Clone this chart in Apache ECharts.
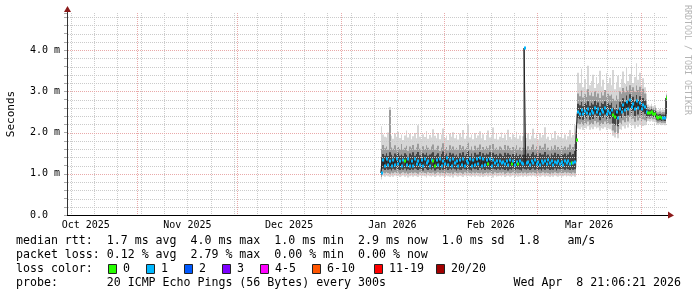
<!DOCTYPE html>
<html><head><meta charset="utf-8">
<script src="https://cdn.jsdelivr.net/npm/echarts@6/dist/echarts.min.js"></script>
<style>html,body{margin:0;padding:0;background:#fff}#c{width:697px;height:297px}</style>
</head><body><div id="c"></div>
<script>
// ---- time frame (local time of the graph, handled as UTC) ----
const axisStart = Date.UTC(2025, 9, 10, 21, 6, 21);
const axisEnd   = Date.UTC(2026, 3, 8, 21, 6, 21);
const firstSample = Date.UTC(2026, 0, 13, 0, 0, 0);
const stepHours = 12;

const monthLabels = ['Oct 2025', 'Nov 2025', 'Dec 2025', 'Jan 2026', 'Feb 2026', 'Mar 2026'];
const yTickLabels = ['0.0', '1.0 m', '2.0 m', '3.0 m', '4.0 m'];
const yMax = 4.9; // ms

// ---- median RTT per step (ms) ----
const median = [
 1.02,1.33,1.20,1.35,1.22,1.30,1.18,1.34,1.21,1.36,
 1.24,1.31,1.19,1.33,1.31,1.22,1.35,1.20,1.32,1.18,
 1.36,1.23,1.30,1.21,1.34,1.19,1.37,1.25,1.31,1.20,
 1.33,1.31,1.19,1.34,1.22,1.36,1.20,1.32,1.24,1.38,
 1.21,1.33,1.19,1.35,1.26,1.30,1.18,1.34,1.22,1.37,
 1.20,1.31,1.25,1.36,1.19,1.33,1.21,1.35,1.23,1.38,
 1.18,1.37,1.22,1.34,1.23,1.36,1.20,1.33,1.25,1.30,
 1.22,1.32,1.27,1.29,1.24,1.31,1.21,1.33,1.24,1.30,
 1.22,1.29,1.23,1.31,1.26,1.24,4.05,1.25,1.28,1.22,
 1.30,1.25,1.33,1.24,1.29,1.21,1.32,1.26,1.30,1.23,
 1.33,1.27,1.31,1.22,1.29,1.25,1.32,1.24,1.28,1.21,
 1.30,1.26,1.31,1.24,1.27,1.25,1.28,1.82,2.50,2.46,
 2.55,2.44,2.52,2.48,2.58,2.45,2.53,2.47,2.60,2.49,
 2.56,2.44,2.54,2.50,2.59,2.46,2.52,2.48,2.55,2.42,
 2.38,2.51,2.35,2.58,2.49,2.66,2.55,2.74,2.58,2.78,
 2.62,2.70,2.56,2.76,2.60,2.72,2.57,2.68,2.62,2.50,
 2.48,2.47,2.49,2.46,2.45,2.38,2.36,2.37,2.35,2.36,
 2.35,2.84
];

// ---- lost pings per step (0..20) ----
const loss = [
 1,1,1,1,1,1,1,1,1,1, 1,1,1,1,0,1,1,1,1,1, 1,1,1,1,1,1,1,1,1,1,
 1,0,0,1,1,1,1,1,1,1, 1,1,1,1,1,1,1,1,1,1, 1,1,1,1,1,1,1,1,1,1,
 1,1,1,1,0,1,1,1,1,1, 1,1,1,1,1,1,1,1,0,1, 1,1,0,1,1,1,1,1,1,1,
 1,1,1,1,1,1,1,1,1,1, 1,1,1,1,1,1,1,1,1,1, 1,1,1,1,0,1,1,0,1,1,
 1,1,1,1,1,1,1,1,1,1, 1,1,1,1,1,1,1,1,1,0, 0,1,1,1,1,1,1,1,1,1,
 1,1,1,1,1,1,1,1,1,1, 0,0,0,0,0,0,0,0,0,1, 1,0
];

// ---- smoke: spread of the 20 pings per step (ms) ----
const smokeMin = [
 0.86,0.95,0.93,0.96,0.94,0.92,0.95,0.93,0.96,0.94,
 0.95,0.92,0.94,0.96,0.93,0.95,0.91,0.94,0.96,0.93,
 0.95,0.94,0.92,0.96,0.93,0.95,0.94,0.91,0.96,0.94,
 0.93,0.95,0.92,0.94,0.96,0.93,0.95,0.94,0.92,0.96,
 0.94,0.93,0.95,0.91,0.96,0.94,0.93,0.95,0.94,0.92,
 0.96,0.93,0.95,0.94,0.92,0.95,0.93,0.96,0.94,0.93,
 0.95,0.92,0.94,0.96,0.93,0.95,0.94,0.91,0.96,0.93,
 0.94,0.95,0.93,0.96,0.92,0.94,0.95,0.93,0.94,0.96,
 0.92,0.95,0.93,0.94,0.96,0.93,0.95,0.92,0.94,0.95,
 0.93,0.96,0.94,0.92,0.95,0.93,0.94,0.96,0.93,0.95,
 0.94,0.92,0.95,0.93,0.96,0.94,0.93,0.95,0.92,0.94,
 0.96,0.93,0.95,0.94,0.92,0.95,0.93,1.15,2.10,2.08,
 2.13,2.06,2.11,2.09,2.15,2.07,2.12,2.08,2.14,2.10,
 2.12,2.05,2.11,2.09,2.13,2.06,2.10,2.08,2.05,1.92,
 1.88,2.02,1.86,2.08,2.06,2.15,2.10,2.20,2.12,2.22,
 2.15,2.18,2.10,2.21,2.14,2.19,2.11,2.16,2.18,2.20,
 2.28,2.27,2.29,2.26,2.25,2.21,2.19,2.20,2.18,2.19,
 2.18,2.33
];
const smokeP10 = [
 0.92,1.03,1.01,1.04,1.02,1.00,1.03,1.01,1.04,1.02,
 1.03,1.00,1.02,1.04,1.01,1.03,1.00,1.02,1.04,1.01,
 1.03,1.02,1.00,1.04,1.01,1.03,1.02,1.00,1.04,1.02,
 1.01,1.03,1.00,1.02,1.04,1.01,1.03,1.02,1.00,1.04,
 1.02,1.01,1.03,1.00,1.04,1.02,1.01,1.03,1.02,1.00,
 1.04,1.01,1.03,1.02,1.00,1.03,1.01,1.04,1.02,1.01,
 1.03,1.00,1.02,1.04,1.01,1.03,1.02,1.00,1.04,1.01,
 1.02,1.03,1.01,1.04,1.00,1.02,1.03,1.01,1.02,1.04,
 1.00,1.03,1.01,1.02,1.04,1.01,1.03,1.00,1.02,1.03,
 1.01,1.04,1.02,1.00,1.03,1.01,1.02,1.04,1.01,1.03,
 1.02,1.00,1.03,1.01,1.04,1.02,1.01,1.03,1.00,1.02,
 1.04,1.01,1.03,1.02,1.00,1.03,1.01,1.30,2.22,2.20,
 2.25,2.18,2.23,2.21,2.27,2.19,2.24,2.20,2.28,2.22,
 2.25,2.17,2.24,2.21,2.27,2.19,2.23,2.20,2.22,2.05,
 2.00,2.18,1.98,2.24,2.20,2.30,2.25,2.35,2.27,2.38,
 2.30,2.34,2.26,2.37,2.29,2.35,2.27,2.32,2.30,2.26,
 2.34,2.33,2.35,2.32,2.31,2.26,2.24,2.25,2.23,2.24,
 2.23,2.38
];
const smokeP25 = [
 0.98,1.12,1.09,1.13,1.10,1.11,1.08,1.12,1.10,1.14,
 1.11,1.09,1.12,1.10,1.13,1.08,1.11,1.09,1.12,1.10,
 1.13,1.11,1.09,1.12,1.10,1.08,1.14,1.11,1.09,1.12,
 1.10,1.13,1.08,1.11,1.12,1.09,1.13,1.10,1.11,1.14,
 1.09,1.12,1.10,1.13,1.11,1.08,1.12,1.10,1.09,1.13,
 1.11,1.09,1.12,1.10,1.08,1.13,1.11,1.12,1.09,1.14,
 1.10,1.12,1.09,1.13,1.11,1.10,1.08,1.12,1.11,1.09,
 1.12,1.10,1.13,1.11,1.09,1.12,1.08,1.11,1.10,1.13,
 1.09,1.12,1.11,1.10,1.08,1.13,1.11,1.10,1.12,1.09,
 1.11,1.13,1.10,1.12,1.09,1.11,1.08,1.12,1.10,1.13,
 1.12,1.09,1.11,1.10,1.13,1.08,1.12,1.11,1.09,1.12,
 1.10,1.13,1.11,1.09,1.12,1.10,1.11,1.55,2.36,2.32,
 2.40,2.31,2.37,2.34,2.42,2.31,2.38,2.33,2.44,2.35,
 2.40,2.30,2.39,2.36,2.43,2.32,2.37,2.34,2.38,2.22,
 2.18,2.33,2.15,2.40,2.35,2.48,2.40,2.55,2.42,2.58,
 2.46,2.53,2.40,2.57,2.44,2.54,2.41,2.50,2.45,2.36,
 2.40,2.39,2.41,2.38,2.37,2.31,2.29,2.30,2.28,2.29,
 2.28,2.45
];
const smokeP75 = [
 1.40,1.48,1.44,1.50,1.43,1.52,1.46,1.42,1.49,1.45,
 1.51,1.44,1.47,1.43,1.50,1.46,1.41,1.49,1.45,1.52,
 1.44,1.48,1.53,1.45,1.42,1.50,1.46,1.51,1.44,1.47,
 1.49,1.52,1.43,1.46,1.50,1.42,1.48,1.54,1.45,1.49,
 1.43,1.51,1.46,1.49,1.44,1.47,1.42,1.50,1.45,1.52,
 1.44,1.48,1.55,1.43,1.49,1.42,1.51,1.46,1.47,1.53,
 1.43,1.50,1.45,1.49,1.47,1.52,1.42,1.51,1.46,1.48,
 1.44,1.49,1.47,1.43,1.51,1.45,1.50,1.46,1.42,1.48,
 1.45,1.50,1.43,1.47,1.41,1.46,1.47,1.44,1.49,1.43,
 1.48,1.52,1.45,1.49,1.43,1.50,1.46,1.47,1.53,1.44,
 1.47,1.42,1.49,1.45,1.51,1.43,1.48,1.44,1.50,1.46,
 1.49,1.43,1.47,1.52,1.45,1.48,1.55,2.05,2.70,2.66,
 2.74,2.64,2.71,2.67,2.76,2.65,2.72,2.68,2.77,2.67,
 2.73,2.63,2.72,2.69,2.76,2.65,2.71,2.67,2.72,2.60,
 2.56,2.68,2.55,2.75,2.69,2.83,2.74,2.90,2.77,2.93,
 2.80,2.87,2.74,2.91,2.78,2.88,2.75,2.84,2.78,2.66,
 2.56,2.55,2.57,2.54,2.53,2.46,2.44,2.45,2.43,2.44,
 2.43,2.87
];
const smokeP90 = [
 1.60,1.70,1.62,1.66,1.58,2.55,1.64,1.61,1.69,1.57,
 1.65,1.60,1.72,1.59,1.63,1.68,1.56,1.66,1.62,1.70,
 1.58,1.64,1.73,1.61,1.57,1.67,1.60,1.69,1.63,1.59,
 1.66,1.71,1.58,1.62,1.68,1.56,1.64,1.74,1.60,1.65,
 1.57,1.69,1.61,1.66,1.59,1.63,1.58,1.70,1.62,1.67,
 1.60,1.64,1.75,1.59,1.66,1.57,1.68,1.61,1.63,1.71,
 1.58,1.65,1.60,1.67,1.62,1.69,1.57,1.72,1.61,1.64,
 1.59,1.66,1.63,1.58,1.70,1.60,1.68,1.62,1.57,1.65,
 1.61,1.69,1.58,1.64,1.56,1.63,1.62,1.60,1.67,1.59,
 1.65,1.71,1.60,1.66,1.58,1.68,1.62,1.64,1.73,1.59,
 1.63,1.57,1.67,1.61,1.69,1.58,1.65,1.60,1.70,1.62,
 1.66,1.59,1.64,1.71,1.60,1.65,1.72,2.25,2.95,2.88,
 3.02,2.85,2.93,2.86,3.05,2.90,2.97,2.88,3.00,2.87,
 2.95,2.84,2.98,2.90,3.03,2.86,2.94,2.89,2.92,2.82,
 2.78,2.90,2.80,3.00,2.94,3.08,2.98,3.12,3.02,3.15,
 3.05,3.10,2.99,3.14,3.03,3.11,2.98,3.06,2.95,2.80,
 2.62,2.60,2.63,2.59,2.60,2.52,2.49,2.51,2.48,2.50,
 2.49,2.91
];
const smokeMax = [
 2.15,1.95,1.90,1.88,2.00,2.62,1.92,1.85,1.98,1.90,
 2.02,1.87,1.95,1.82,1.93,2.05,1.88,1.97,1.84,1.91,
 1.99,1.86,2.18,1.90,1.83,1.96,1.89,2.04,1.85,1.94,
 1.88,2.08,1.92,1.86,1.99,1.84,1.95,2.10,1.87,1.93,
 1.82,1.97,1.90,2.01,1.86,1.94,1.83,1.98,1.89,2.06,
 1.85,1.92,2.20,1.88,1.95,1.84,1.99,1.87,1.93,2.03,
 1.86,1.96,1.82,1.94,2.05,1.88,1.91,2.12,1.85,1.97,
 1.83,1.90,2.00,1.87,1.95,1.82,2.07,1.89,1.84,1.96,
 1.88,2.02,1.85,1.93,1.80,1.91,1.95,1.87,1.98,1.84,
 1.92,2.09,1.86,1.95,1.83,1.99,1.88,1.94,2.13,1.85,
 1.90,1.82,1.97,1.87,2.04,1.84,1.93,1.89,1.99,1.86,
 1.95,1.83,1.91,2.06,1.88,1.94,2.18,2.45,3.45,3.20,
 3.55,3.10,3.30,3.05,3.62,3.15,3.25,3.40,3.08,3.35,
 3.18,3.50,3.12,3.28,3.02,3.44,3.20,3.33,3.15,3.52,
 3.05,3.22,3.38,3.10,3.30,3.48,3.18,3.58,3.25,3.42,
 3.60,3.20,3.35,3.68,3.28,3.45,3.15,3.32,3.10,2.95,
 2.68,2.65,2.70,2.64,2.66,2.58,2.55,2.57,2.54,2.56,
 2.55,2.95
];

const lossColors = [
 {label:'0', color:'#26ff00', upTo:0}, {label:'1', color:'#00b8ff', upTo:1},
 {label:'2', color:'#0059ff', upTo:2}, {label:'3', color:'#7e00ff', upTo:3},
 {label:'4-5', color:'#ff00ff', upTo:5}, {label:'6-10', color:'#ff5500', upTo:10},
 {label:'11-19', color:'#ff0000', upTo:19}, {label:'20/20', color:'#a10000', upTo:20}
];

// ---------------- build ----------------
const STEP = stepHours * 3600 * 1000;
const DAY = 86400000;
const FONT = '"DejaVu Sans Mono", "Liberation Mono", monospace';
function lossColor(n){ for (const c of lossColors) if (n <= c.upTo) return c.color; return '#a10000'; }

const times = median.map((_, i) => firstSample + i * STEP);
const smokeData = times.map((t, i) => [t, smokeMin[i], smokeP10[i], smokeP25[i], smokeP75[i], smokeP90[i], smokeMax[i]]);
const medData = times.map((t, i) => [t, median[i], loss[i]]);

// month label anchors: middle of each month
const monIdx = {Jan:0,Feb:1,Mar:2,Apr:3,May:4,Jun:5,Jul:6,Aug:7,Sep:8,Oct:9,Nov:10,Dec:11};
const labelValues = monthLabels.map(l => {
  const [m, y] = l.split(' '); const a = Date.UTC(+y, monIdx[m], 1), b = Date.UTC(+y, monIdx[m] + 1, 1);
  return a + (b - a) / 2;
});
// grid positions (calendar based)
const monthStarts = [];
for (let y = 2025, m = 9; ; ) { const t = Date.UTC(y, m, 1); if (t > axisEnd) break; if (t > axisStart) monthStarts.push(t); m++; if (m > 11) { m = 0; y++; } }
const sundays = [];
for (let t = Date.UTC(2025, 9, 12); t < axisEnd; t += 7 * DAY) if (monthStarts.indexOf(t) < 0) sundays.push(t);
const hMinor = [], hMajor = [];
for (let k = 1; k * 0.2 < yMax; k++) { if (k % 5 === 0) hMajor.push(k / 5); else hMinor.push(+(k * 0.2).toFixed(1)); }

const gridColor = '#cbcbcb', mgridColor = '#e9a9a9';
// dotted line drawn as a row of 1px dots (crisp, like rrdtool's 1-on/1-off grid)
function dots(x1, y1, x2, y2, color) {
  const pts = [];
  if (x1 === x2) { for (let y = Math.min(y1, y2); y <= Math.max(y1, y2); y += 2) pts.push({type: 'rect', shape: {x: x1, y: y, width: 1, height: 1}, style: {fill: color}}); }
  else { for (let x = Math.min(x1, x2); x <= Math.max(x1, x2); x += 2) pts.push({type: 'rect', shape: {x: x, y: y1, width: 1, height: 1}, style: {fill: color}}); }
  return {type: 'group', children: pts};
}
function vLineSeries(list, color) {
  return {
    type: 'custom', z: 3, silent: true, clip: true, encode: {x: 0, y: 1},
    data: list.map(t => [t, 0]),
    renderItem: (params, api) => {
      const t = api.value(0);
      const p0 = api.coord([t, 0]), p1 = api.coord([t, yMax]);
      return dots(Math.round(p0[0]), Math.round(p0[1]) - 1, Math.round(p0[0]), Math.round(p1[1]), color);
    }
  };
}
function hLineSeries(list, color) {
  return {
    type: 'custom', z: 3, silent: true, clip: true, encode: {x: 0, y: 1},
    data: list.map(v => [axisStart, v]),
    renderItem: (params, api) => {
      const v = api.value(1);
      const p0 = api.coord([axisStart, v]), p1 = api.coord([axisEnd, v]);
      return dots(Math.round(p0[0]) + 1, Math.round(p0[1]), Math.round(p1[0]), Math.round(p0[1]), color);
    }
  };
}

const chart = echarts.init(document.getElementById('c'), null, {renderer: 'canvas'});

chart.setOption({
  animation: false,
  backgroundColor: '#fff',
  grid: {left: 67, right: 30, top: 13, bottom: 82, containLabel: false, outerBoundsMode: 'none'},
  xAxis: {
    type: 'value', min: axisStart, max: axisEnd, z: 6,
    axisLine: {show: true, onZero: false, lineStyle: {color: '#000', width: 1}},
    axisTick: {show: false},
    splitLine: {show: false},
    axisLabel: {
      customValues: labelValues, margin: 5, color: '#000', fontFamily: FONT, fontSize: 10,
      formatter: v => { const k = labelValues.findIndex(x => Math.abs(x - v) < 1000); return k >= 0 ? monthLabels[k] : ''; }
    }
  },
  yAxis: {
    type: 'value', min: 0, max: yMax, interval: 0.2, z: 6,
    name: 'Seconds', nameLocation: 'middle', nameRotate: 90, nameGap: 50,
    nameTextStyle: {fontFamily: FONT, fontSize: 11, color: '#000'},
    axisLine: {show: true, onZero: false, lineStyle: {color: '#333', width: 1}},
    axisTick: {show: true, length: 3, lineStyle: {color: '#aaa'}},
    splitLine: {show: false},
    axisLabel: {
      align: 'left', margin: 37, color: '#000', fontFamily: FONT, fontSize: 10,
      formatter: v => { const r = Math.round(v); return (Math.abs(v - r) < 1e-6 && r < yTickLabels.length) ? yTickLabels[r] : ''; }
    }
  },
  series: [
    { // smoke
      type: 'custom', z: 2, silent: true, clip: true,
      encode: {x: 0, y: [1, 6]},
      data: smokeData,
      renderItem: (params, api) => {
        const t = api.value(0);
        const xa = Math.round(api.coord([t, 0])[0]), xb = Math.round(api.coord([t + STEP, 0])[0]);
        const band = (lo, hi, fill) => {
          const y1 = api.coord([t, api.value(lo)])[1], y2 = api.coord([t, api.value(hi)])[1];
          return {type: 'rect', shape: {x: xa, y: Math.min(y1, y2), width: Math.max(1, xb - xa), height: Math.abs(y1 - y2)}, style: {fill: fill}};
        };
        return {type: 'group', children: [band(1, 6, '#d6d6d6'), band(2, 5, '#9c9c9c'), band(3, 4, '#444444')]};
      }
    },
    vLineSeries(sundays, gridColor),
    hLineSeries(hMinor, gridColor),
    vLineSeries(monthStarts, mgridColor),
    hLineSeries(hMajor, mgridColor),
    { // median line
      type: 'line', z: 4, step: 'end', symbol: 'none', silent: true,
      data: medData.map(d => [d[0], d[1]]),
      lineStyle: {color: '#202020', width: 1}
    },
    { // loss coloured median marks
      type: 'custom', z: 5, silent: true, clip: true,
      encode: {x: 0, y: 1},
      data: medData,
      renderItem: (params, api) => {
        const t = api.value(0);
        const p = api.coord([t, api.value(1)]);
        const xa = Math.round(p[0]), xb = Math.round(api.coord([t + STEP, 0])[0]);
        return {type: 'rect', shape: {x: xa, y: Math.round(p[1]) - 1.5, width: Math.max(2, xb - xa), height: 3},
          style: {fill: lossColor(api.value(2))}};
      }
    }
  ]
});

// ---- decorations: arrows, legend, credits ----
const pEnd = chart.convertToPixel({gridIndex: 0}, [axisEnd, 0]);
const pTop = chart.convertToPixel({gridIndex: 0}, [axisStart, yMax]);
const g = [];
g.push({type: 'line', shape: {x1: pEnd[0], y1: Math.round(pEnd[1]) + 0.5, x2: pEnd[0] + 3, y2: Math.round(pEnd[1]) + 0.5}, style: {stroke: '#000'}});
g.push({type: 'polygon', shape: {points: [[pEnd[0] + 1, pEnd[1] - 3.5], [pEnd[0] + 7, pEnd[1] + 0.5], [pEnd[0] + 1, pEnd[1] + 3.5]]}, style: {fill: '#8b1a1a'}});
g.push({type: 'line', shape: {x1: Math.round(pTop[0]) + 0.5, y1: pTop[1], x2: Math.round(pTop[0]) + 0.5, y2: pTop[1] - 2}, style: {stroke: '#333'}});
g.push({type: 'polygon', shape: {points: [[pTop[0] - 3, pTop[1] - 1], [pTop[0] + 0.5, pTop[1] - 7], [pTop[0] + 4, pTop[1] - 1]]}, style: {fill: '#8b1a1a'}});

const txt = (x, y, s, extra) => Object.assign({type: 'text', x: x, y: y, style: Object.assign({text: s, fill: '#000', font: '11.6px ' + FONT, textVerticalAlign: 'middle'}, extra || {})});
g.push(txt(16, 241, 'median rtt:  1.7 ms avg  4.0 ms max  1.0 ms min  2.9 ms now  1.0 ms sd  1.8    am/s'));
g.push(txt(16, 255, 'packet loss: 0.12 % avg  2.79 % max  0.00 % min  0.00 % now'));
g.push(txt(16, 269, 'loss color:'));
const boxX = [108, 146, 184, 222, 260, 312, 374, 436];
lossColors.forEach((c, k) => {
  g.push({type: 'rect', shape: {x: boxX[k] + 0.5, y: 264.5, width: 8, height: 9}, style: {fill: c.color, stroke: '#222', lineWidth: 1}});
  g.push(txt(boxX[k] + 15, 269, c.label));
});
g.push(txt(16, 283, 'probe:       20 ICMP Echo Pings (56 Bytes) every 300s'));
g.push(txt(681, 283, 'Wed Apr  8 21:06:21 2026', {textAlign: 'right'}));
g.push({type: 'text', x: 687, y: 5, rotation: -Math.PI / 2,
  style: {text: 'RRDTOOL / TOBI OETIKER', fill: '#b4b4b4', font: '8.3px ' + FONT, textAlign: 'left', textVerticalAlign: 'middle'}});
chart.setOption({graphic: g});
</script>
</body></html>
